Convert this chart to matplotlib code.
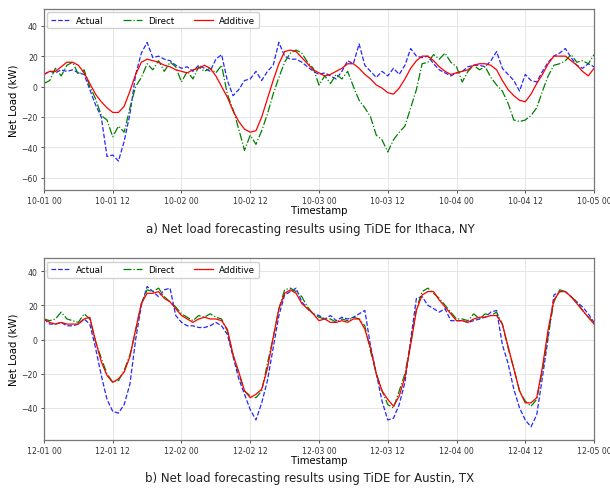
import numpy as np
import pandas as pd
import matplotlib
matplotlib.use("Agg")
import matplotlib.pyplot as plt
import matplotlib.dates as mdates

# hourly timestamps, 4 days
ithaca_time = pd.date_range("2022-10-01 00:00", periods=97, freq="h")
austin_time = pd.date_range("2022-12-01 00:00", periods=97, freq="h")

# ---- a) Ithaca, NY ----
ithaca_actual = [
    8, 10, 9, 11, 10, 11, 9, 8, -2, -12, -20, -46, -45, -49, -36, -18, 8, 22, 29, 19, 20, 18, 17, 14,
    12, 13, 10, 14, 12, 10, 18, 21, 4, -6, -2, 4, 5, 10, 4, 10, 14, 29, 20, 18, 18, 16, 13, 10,
    8, 9, 7, 5, 10, 17, 15, 28, 14, 10, 6, 10, 7, 12, 8, 14, 25, 20, 19, 20, 15, 11, 9, 7,
    9, 10, 13, 14, 14, 13, 17, 23, 12, 8, 4, -3, 8, 4, 3, 10, 16, 20, 22, 25, 19, 14, 12, 15, 13,
]
ithaca_direct = [
    2, 4, 12, 7, 14, 16, 8, 11, 0, -8, -19, -22, -33, -26, -30, -14, 0, 6, 15, 11, 17, 10, 16, 13,
    3, 10, 5, 13, 10, 12, 9, 14, -5, -15, -28, -42, -32, -38, -29, -18, -5, 6, 16, 22, 24, 22, 16, 12,
    1, 7, 2, 8, 5, 10, 0, -9, -14, -20, -32, -35, -43, -35, -30, -26, -14, -2, 15, 16, 21, 18, 22, 16,
    13, 3, 10, 14, 11, 13, 6, 1, -3, -11, -22, -23, -22, -19, -14, -3, 7, 14, 15, 17, 21, 16, 17, 15, 21,
]
ithaca_additive = [
    8, 10, 10, 13, 16, 16, 14, 9, 2, -5, -10, -14, -17, -17, -13, -3, 8, 16, 18, 17, 16, 14, 13, 11,
    10, 9, 11, 12, 14, 12, 7, 0, -7, -16, -23, -28, -30, -29, -20, -8, 4, 15, 23, 24, 23, 19, 15, 11,
    9, 7, 8, 10, 12, 15, 15, 12, 8, 5, 1, -1, -4, -5, -1, 5, 12, 17, 20, 20, 17, 13, 10, 8,
    9, 10, 11, 14, 15, 15, 14, 11, 4, -2, -6, -9, -10, -5, 2, 8, 15, 20, 20, 20, 17, 14, 10, 7, 12,
]

# ---- b) Austin, TX ----
austin_actual = [
    12, 9, 9, 10, 8, 8, 9, 12, 9, -5, -21, -35, -42, -43, -38, -26, 0, 20, 31, 28, 25, 29, 30, 14,
    10, 8, 8, 7, 7, 8, 10, 8, 3, -10, -23, -32, -41, -47, -37, -24, -5, 14, 26, 28, 30, 22, 18, 15,
    14, 12, 14, 11, 13, 12, 13, 15, 17, -4, -20, -36, -47, -46, -38, -25, 0, 24, 25, 20, 18, 16, 18, 11,
    11, 11, 10, 11, 12, 13, 16, 17, -3, -14, -29, -40, -47, -51, -44, -22, 1, 26, 28, 28, 25, 22, 19, 15, 10,
]
austin_direct = [
    12, 11, 12, 16, 12, 11, 10, 15, 12, -1, -11, -20, -25, -24, -18, -9, 5, 21, 29, 28, 30, 25, 22, 19,
    15, 13, 11, 14, 13, 15, 13, 12, 5, -9, -20, -30, -33, -34, -30, -14, 1, 18, 29, 30, 28, 25, 19, 15,
    13, 12, 12, 10, 12, 11, 13, 12, 8, -7, -20, -30, -38, -40, -30, -20, -2, 18, 28, 30, 27, 24, 20, 16,
    12, 12, 11, 15, 12, 15, 14, 16, 9, -5, -17, -30, -36, -39, -35, -18, 3, 22, 29, 28, 25, 22, 17, 13, 10,
]
austin_additive = [
    12, 10, 9, 10, 9, 9, 9, 12, 13, -1, -13, -21, -25, -23, -19, -10, 6, 21, 27, 27, 28, 24, 22, 18,
    14, 12, 10, 12, 13, 12, 12, 11, 6, -9, -19, -30, -34, -32, -29, -17, 1, 18, 27, 29, 27, 21, 18, 15,
    11, 12, 10, 10, 11, 10, 12, 12, 6, -5, -20, -30, -35, -39, -33, -22, -3, 17, 26, 28, 28, 23, 19, 15,
    11, 11, 10, 12, 13, 13, 14, 14, 9, -4, -17, -30, -37, -37, -34, -16, 6, 23, 28, 28, 25, 21, 17, 13, 9,
]

captions = [
    "a) Net load forecasting results using TiDE for Ithaca, NY",
    "b) Net load forecasting results using TiDE for Austin, TX",
]


def plot_panel(ax, t, actual, direct, additive, ylim, yticks):
    ax.plot(t, actual, color="blue", linestyle="--", linewidth=0.9, alpha=0.85, label="Actual")
    ax.plot(t, direct, color="green", linestyle="-.", linewidth=0.9, label="Direct")
    ax.plot(t, additive, color="red", linestyle="-", linewidth=0.9, label="Additive")
    ax.set_xlim(t[0], t[-1])
    ax.set_ylim(*ylim)
    ax.set_yticks(yticks)
    ax.xaxis.set_major_locator(mdates.HourLocator(byhour=[0, 12]))
    ax.xaxis.set_major_formatter(mdates.DateFormatter("%m-%d %H"))
    ax.grid(True, color="#e6e6e6", linewidth=0.7)
    ax.set_axisbelow(True)
    for s in ax.spines.values():
        s.set_color("#777777")
        s.set_linewidth(0.9)
    ax.tick_params(labelsize=5.6, length=2.5, width=0.6, pad=2, colors="#333333")
    ax.set_ylabel("Net Load (kW)", fontsize=7.3, labelpad=2)
    ax.set_xlabel("Timestamp", fontsize=7.3, labelpad=0)
    ax.legend(loc="upper left", ncol=3, fontsize=6.3, columnspacing=2.2,
              handlelength=2.2, handletextpad=0.7, borderaxespad=0.4,
              framealpha=0.9, edgecolor="#cccccc")


fig = plt.figure(figsize=(6.1, 4.89), dpi=100)
ax1 = fig.add_axes([0.0721, 0.6094, 0.9017, 0.3702])
ax2 = fig.add_axes([0.0721, 0.0982, 0.9017, 0.3721])

plot_panel(ax1, ithaca_time, ithaca_actual, ithaca_direct, ithaca_additive,
           (-68, 51), [-60, -40, -20, 0, 20, 40])
plot_panel(ax2, austin_time, austin_actual, austin_direct, austin_additive,
           (-58.7, 47.6), [-40, -20, 0, 20, 40])

fig.text(0.508, 1 - 229 / 489, captions[0], ha="center", va="center", fontsize=8.5, color="#222222")
fig.text(0.508, 1 - 479 / 489, captions[1], ha="center", va="center", fontsize=8.5, color="#222222")

fig.savefig("out.png", dpi=100)
